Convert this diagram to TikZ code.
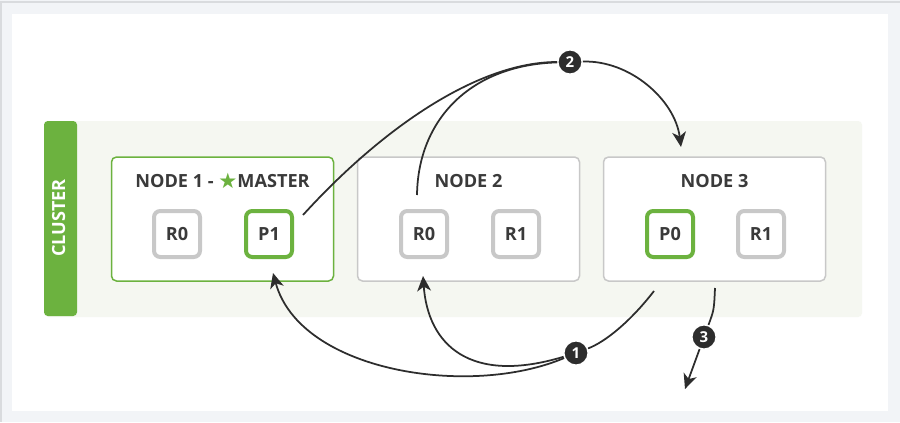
\documentclass[tikz,border=0pt]{standalone}
\usepackage{fontspec}
\setmainfont{Open Sans}
\newfontfamily\symfont{DejaVu Sans}
\usetikzlibrary{arrows.meta, positioning}
\definecolor{esgreen}{RGB}{108,178,63}
\definecolor{esgrey}{RGB}{200,200,200}
\definecolor{estext}{RGB}{58,58,58}
\definecolor{clusterbg}{RGB}{245,247,241}
\definecolor{framebg}{RGB}{242,244,247}
\definecolor{frameline}{RGB}{217,219,222}
\definecolor{badgefill}{RGB}{45,45,45}

\begin{document}
\begin{tikzpicture}[x=0.8pt, y=-0.8pt,
        esnode/.style={draw=#1, fill=white, line width=1.2pt, rounded corners=4pt,
                       minimum width=177.6pt, minimum height=99.2pt},
        shard/.style={draw=#1, fill=white, line width=3.2pt, rounded corners=5pt,
                      minimum size=36.8pt, inner sep=0pt, text=estext,
                      font=\bfseries\fontsize{14.5}{16}\selectfont},
        title/.style={text=estext, inner sep=0pt, text height=0.72em, text depth=0pt,
                      font=\bfseries\fontsize{14.5}{16}\selectfont},
        badge/.style={circle, fill=badgefill, draw=white, line width=1.2pt,
                      minimum size=19.5pt, inner sep=0pt, text=white,
                      font=\bfseries\fontsize{12}{13}\selectfont},
        arr/.style={-{Stealth[length=12pt, width=11pt, inset=3.5pt]},
                    line width=1.4pt, draw=badgefill},
        link/.style={line width=1.4pt, draw=badgefill}
      ]
        \useasboundingbox (0,0) rectangle (900,422);
        % frame
        \fill[framebg] (0,0) rectangle (900,422);
        \draw[frameline, line width=1.2pt] (0,2) -- (900,2);
        \draw[frameline, line width=1.2pt] (1,2) -- (1,422);
        \fill[white] (12,14) rectangle (888,411);
        % cluster
        \fill[clusterbg, rounded corners=3pt] (45,121) rectangle (862,317);
        \fill[esgreen, rounded corners=3pt] (44,121) rectangle (77,316);
        \node[title, text=white, rotate=90] (cluster) at (60.5,218) {CLUSTER};

        \node[esnode=esgreen] (n1) at (222.5,219) {};
        \node[esnode=esgrey]  (n2) at (468.5,219) {};
        \node[esnode=esgrey]  (n3) at (714.5,219) {};
        \node[title] (t1) at (222.5,183) {NODE 1 - {\symfont\color{esgreen}\fontsize{17}{18}\selectfont\raisebox{-0.5pt}{★}}MASTER};
        \node[title] (t2) at (468.5,183) {NODE 2};
        \node[title] (t3) at (714.5,183) {NODE 3};

        \node[shard=esgrey]  (n1r0) at (177,234) {R0};
        \node[shard=esgreen] (n1p1) at (269,234) {P1};
        \node[shard=esgrey]  (n2r0) at (424,234) {R0};
        \node[shard=esgrey]  (n2r1) at (516,234) {R1};
        \node[shard=esgreen] (n3p0) at (670,234) {P0};
        \node[shard=esgrey]  (n3r1) at (761,234) {R1};

        \node[badge] (b1) at (576,353) {1};
        \node[badge] (b2) at (570,62) {2};
        \node[badge] (b3) at (704,337) {3};

        \coordinate (p1out) at (303,215);
        \coordinate (r0out) at (417,195);
        \coordinate (n3in)  at (681,147);
        \coordinate (n3out) at (654,291);
        \coordinate (p1in)  at (273,273);
        \coordinate (r0in)  at (423,276);
        \coordinate (n3down) at (715,288);
        \coordinate (away)  at (685,389);

        % step 2
        \draw[link] (p1out) .. controls (385,125) and (480,62) .. (b2);
        \draw[link] (r0out) .. controls (418,120) and (470,65) .. (b2);
        \draw[arr] (b2) .. controls (630,60) and (675,100) .. (n3in);
        % step 1
        \draw[link] (n3out) .. controls (630,322) and (605,342) .. (b1);
        \draw[arr] (b1) .. controls (470,398) and (300,372) .. (p1in);
        \draw[arr] (b1) .. controls (470,385) and (428,345) .. (r0in);
        % step 3
        \draw[link] (n3down) .. controls (714,310) .. (b3);
        \draw[arr] (b3) -- (away);
      \end{tikzpicture}
\end{document}
